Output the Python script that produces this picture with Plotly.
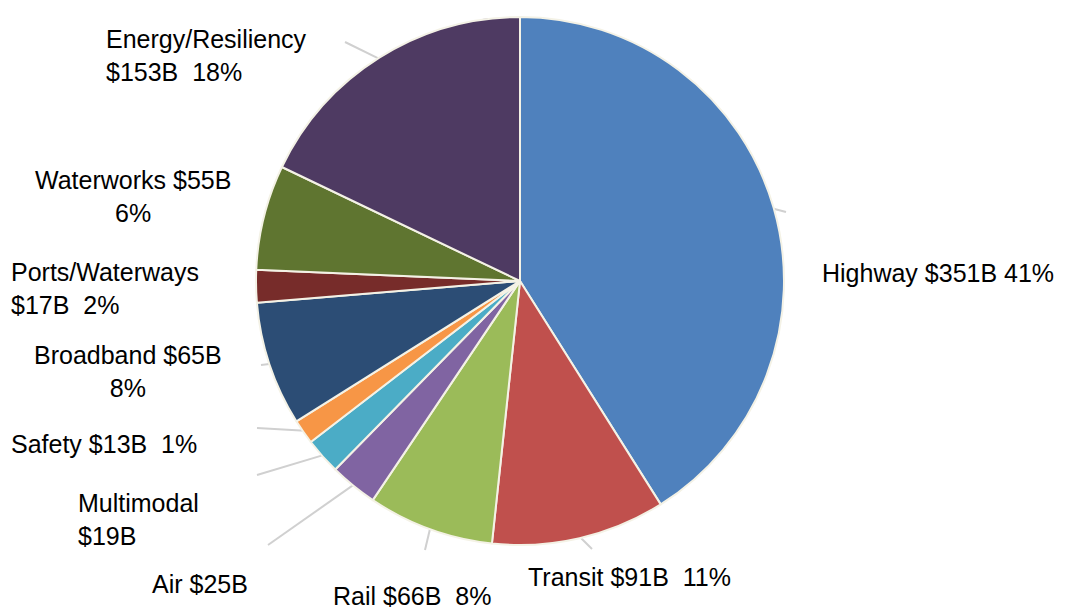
import math
import plotly.graph_objects as go

# ---- data ----
categories = ["Highway", "Transit", "Rail", "Air", "Multimodal", "Safety",
              "Broadband", "Ports/Waterways", "Waterworks", "Energy/Resiliency"]
values = [351, 91, 66, 25, 19, 13, 65, 17, 55, 153]  # $B
label_texts = [
    "Highway $351B 41%",
    "Transit $91B  11%",
    "Rail $66B  8%",
    "Air $25B",
    "Multimodal<br>$19B",
    "Safety $13B  1%",
    "Broadband $65B<br>8%",
    "Ports/Waterways<br>$17B  2%",
    "Waterworks $55B<br>6%",
    "Energy/Resiliency<br>$153B  18%",
]
colors = ["#4F81BD", "#C0504D", "#9BBB59", "#8064A2", "#4BACC6", "#F79646",
          "#2C4D75", "#772C2A", "#5F7530", "#4E3A62"]

# ---- layout / styling (pixel positions) ----
W, H = 1073, 612
CX, CY, R = 520, 281, 264
# label anchor (x px, center y px, xanchor, align)
label_pos = [
    (820, 273, "left", "left"),
    (526, 577, "left", "left"),
    (331, 596, "left", "left"),
    (150, 584, "left", "left"),
    (76, 519, "left", "left"),
    (9, 444, "left", "left"),
    (128, 372, "center", "center"),
    (9, 288, "left", "left"),
    (133, 197, "center", "center"),
    (104, 55, "left", "left"),
]
# leader line outer end points (px); None = no visible leader
leader_end = [
    (786, 212), (592, 549), (425, 550), (268, 545), (257, 475),
    (257, 428), (261, 365), None, None, (345, 42),
]


def px(x):
    return x / W


def py(y):
    return 1 - y / H


fig = go.Figure(go.Pie(
    labels=categories,
    values=values,
    sort=False,
    direction="clockwise",
    rotation=0,
    marker=dict(colors=colors, line=dict(color="#F4F2E6", width=2)),
    textinfo="none",
    hoverinfo="label+value+percent",
    showlegend=False,
    domain=dict(x=[px(CX - R), px(CX + R)], y=[py(CY + R), py(CY - R)]),
))

total = sum(values)
cum = 0
shapes = []
for v, end in zip(values, leader_end):
    mid = (cum + v / 2) / total
    cum += v
    if end is None:
        continue
    ang = 2 * math.pi * mid
    sx = CX + (R - 2) * math.sin(ang)
    sy = CY - (R - 2) * math.cos(ang)
    shapes.append(dict(type="line", xref="paper", yref="paper",
                       x0=px(sx), y0=py(sy), x1=px(end[0]), y1=py(end[1]),
                       line=dict(color="#D0D0D0", width=2), layer="below"))

annotations = []
for txt, (x, y, xa, al) in zip(label_texts, label_pos):
    annotations.append(dict(text=txt, x=px(x), y=py(y), xref="paper", yref="paper",
                            xanchor=xa, yanchor="middle", align=al, showarrow=False,
                            font=dict(family="Liberation Sans, Arial", size=25, color="#000000")))

fig.update_layout(
    width=W, height=H,
    margin=dict(l=0, r=0, t=0, b=0),
    paper_bgcolor="white", plot_bgcolor="white",
    shapes=shapes, annotations=annotations,
)

fig.write_html("out.html")
